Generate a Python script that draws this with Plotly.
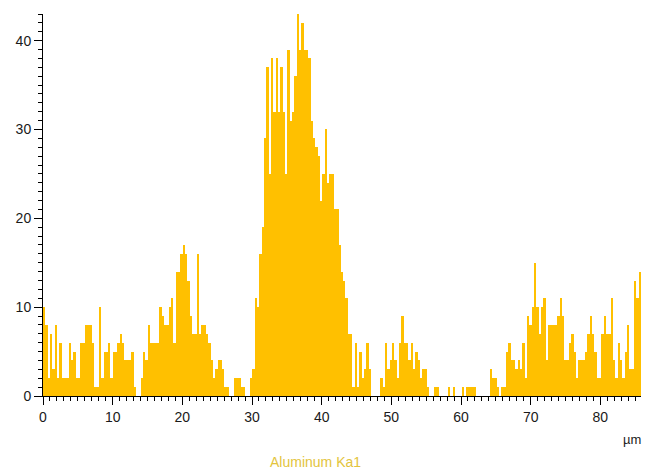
import plotly.graph_objects as go

# EDS line scan: Al Ka1 counts along the scan (bin width in µm)
step_um = 0.334
counts = [
    10, 8, 2, 7, 3, 8, 2, 6, 2, 2, 2, 6, 4, 5, 2, 2, 6, 6, 8, 8,
    8, 6, 1, 1, 10, 2, 5, 5, 6, 2, 5, 5, 6, 7, 6, 4, 4, 4, 5, 1,
    0, 0, 2, 5, 4, 8, 6, 6, 6, 6, 10, 9, 8, 8, 10, 11, 6, 14, 14, 16,
    17, 16, 13, 9, 7, 7, 16, 7, 8, 8, 7, 6, 4, 2, 3, 4, 4, 3, 1, 1,
    0, 0, 2, 2, 2, 1, 1, 0, 0, 2, 3, 11, 10, 16, 19, 29, 37, 25, 38, 32,
    38, 32, 37, 32, 25, 39, 31, 32, 36, 43, 39, 42, 39, 39, 38, 31, 29, 28, 27, 22,
    25, 30, 24, 25, 25, 21, 21, 17, 14, 13, 11, 7, 7, 1, 6, 1, 5, 2, 3, 6,
    3, 0, 0, 0, 0, 2, 1, 6, 3, 4, 6, 4, 2, 6, 9, 6, 6, 4, 6, 3,
    5, 4, 2, 3, 3, 1, 0, 0, 1, 1, 0, 0, 0, 0, 1, 0, 1, 0, 0, 0,
    1, 0, 1, 1, 1, 1, 0, 0, 0, 0, 0, 0, 3, 2, 2, 1, 0, 1, 1, 5,
    6, 4, 4, 3, 4, 3, 6, 2, 9, 8, 10, 15, 10, 7, 10, 11, 4, 8, 8, 8,
    8, 9, 11, 9, 4, 4, 6, 7, 5, 2, 4, 4, 4, 5, 7, 9, 7, 5, 2, 2,
    7, 9, 7, 7, 11, 4, 2, 6, 4, 2, 5, 8, 3, 3, 13, 11, 14,
]
positions = [(i + 0.5) * step_um for i in range(len(counts))]

x_tick_vals = [0, 10, 20, 30, 40, 50, 60, 70, 80]
y_tick_vals = [0, 10, 20, 30, 40]
series_name = "Aluminum Ka1"
x_unit = "µm"

fig = go.Figure(
    go.Bar(
        x=positions,
        y=counts,
        width=step_um,
        marker=dict(color="#FFC000", line=dict(width=0)),
        name=series_name,
    )
)

axis_font = dict(family="Liberation Sans, Arial, sans-serif", size=14, color="#1a1a1a")

fig.update_layout(
    width=646,
    height=471,
    margin=dict(l=43, r=5, t=14, b=75),
    paper_bgcolor="white",
    plot_bgcolor="white",
    showlegend=False,
    bargap=0,
    xaxis=dict(
        range=[0, len(counts) * step_um],
        tickvals=x_tick_vals,
        ticks="outside",
        ticklen=8,
        tickwidth=1,
        tickcolor="black",
        showline=True,
        linecolor="black",
        linewidth=1,
        showgrid=False,
        zeroline=False,
        tickfont=axis_font,
        minor=dict(dtick=1, ticks="outside", ticklen=4, tickcolor="black", showgrid=False),
    ),
    yaxis=dict(
        range=[0, 43],
        tickvals=y_tick_vals,
        ticks="outside",
        ticklen=8,
        tickwidth=1,
        tickcolor="black",
        showline=True,
        linecolor="black",
        linewidth=1,
        showgrid=False,
        zeroline=False,
        tickfont=axis_font,
        minor=dict(dtick=1, ticks="outside", ticklen=4, tickcolor="black", showgrid=False),
    ),
    annotations=[
        dict(
            text=x_unit, xref="paper", yref="paper", x=0.985, y=-0.115,
            xanchor="center", yanchor="middle", showarrow=False,
            font=dict(family="Liberation Sans, Arial, sans-serif", size=13, color="#1a1a1a"),
        ),
        dict(
            text=series_name, xref="paper", yref="paper", x=0.455, y=-0.172,
            xanchor="center", yanchor="middle", showarrow=False,
            font=dict(family="Liberation Sans, Arial, sans-serif", size=14, color="#E3C43C"),
        ),
    ],
)

fig.write_html("out.html")
